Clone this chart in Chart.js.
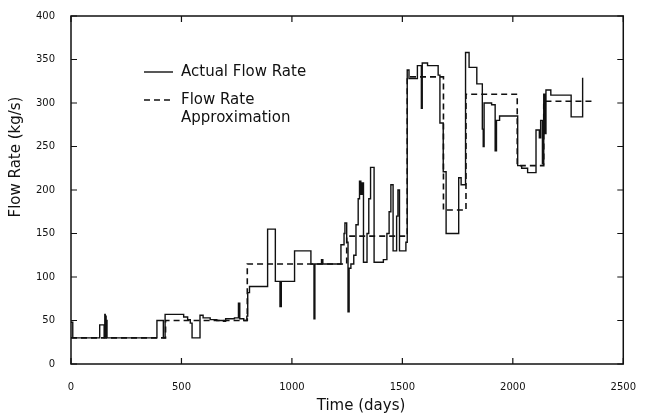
<!DOCTYPE html>
<html>
<head>
<meta charset="utf-8">
<script src="https://cdn.jsdelivr.net/npm/chart.js@4.4.0/dist/chart.umd.min.js"></script>
<style>
    html, body { margin: 0; padding: 0; background: #fff; }
    #wrap { width: 645px; height: 416px; }
</style>
</head>
<body>
<div id="wrap"><canvas id="flowChart" width="645" height="416"></canvas></div>
<script>
// each value holds from its day until the next day (step plot)
const actualDays = [
    0, 8, 130, 150, 153, 155, 157, 159, 161, 163,
    389, 418, 426, 510, 528, 540, 548, 584, 598, 630,
    660, 690, 700, 740, 758, 764, 782, 796, 800, 808,
    890, 925, 946, 952, 1012, 1086, 1100, 1104, 1134, 1140,
    1222, 1236, 1240, 1248, 1254, 1259, 1267, 1280, 1290, 1300,
    1306, 1312, 1318, 1324, 1340, 1348, 1356, 1372, 1414, 1430,
    1440, 1448, 1458, 1474, 1480, 1487, 1516, 1522, 1530, 1568,
    1586, 1590, 1614, 1662, 1670, 1685, 1698, 1755, 1766, 1786,
    1802, 1837, 1862, 1866, 1870, 1904, 1920, 1926, 1940, 2022,
    2040, 2067, 2105, 2120, 2126, 2134, 2140, 2146, 2150, 2172,
    2264, 2316
];
const actualFlow = [
    48, 30, 45, 30, 57, 33, 55, 31, 50, 30,
    50, 30, 57, 54, 51, 47, 30, 56, 53, 51,
    50, 49, 52, 53, 70, 52, 50, 55, 82, 89,
    155, 95, 66, 95, 130, 115, 52, 115, 120, 115,
    137, 150, 162, 140, 60, 110, 115, 125, 160, 190,
    210, 195, 208, 117, 150, 190, 226, 117, 120, 150,
    175, 206, 130, 170, 200, 130, 140, 338, 328, 343,
    294, 346, 343, 332, 277, 221, 150, 214, 206, 358,
    341, 322, 270, 250, 300, 298, 245, 280, 285, 228,
    225, 220, 269, 260, 280, 230, 310, 265, 315, 309,
    284, 329
];
const approxDays = [0, 428, 798, 1248, 1522, 1686, 1788, 2020, 2140, 2360];
const approxFlow = [30, 50, 115, 147, 330, 177, 310, 228, 302, 302];

const xTicks = [0, 500, 1000, 1500, 2000, 2500];
const yTicks = [0, 50, 100, 150, 200, 250, 300, 350, 400];

const ink = "#111";
const fontName = "'DejaVu Sans', sans-serif";

function toPoints(xs, ys) {
    return xs.map((x, i) => ({ x: x, y: ys[i] }));
}

const framePlugin = {
    id: "frame",
    afterDraw(chart) {
        const { ctx, chartArea: a, scales } = chart;
        ctx.save();
        ctx.strokeStyle = ink;
        ctx.lineWidth = 1.5;
        ctx.strokeRect(a.left, a.top, a.right - a.left, a.bottom - a.top);

        // inward tick marks on all four sides
        ctx.lineWidth = 1.2;
        ctx.beginPath();
        scales.x.ticks.forEach(t => {
            const px = scales.x.getPixelForValue(t.value);
            ctx.moveTo(px, a.bottom); ctx.lineTo(px, a.bottom - 6);
            ctx.moveTo(px, a.top); ctx.lineTo(px, a.top + 6);
        });
        scales.y.ticks.forEach(t => {
            const py = scales.y.getPixelForValue(t.value);
            ctx.moveTo(a.left, py); ctx.lineTo(a.left + 6, py);
            ctx.moveTo(a.right, py); ctx.lineTo(a.right - 6, py);
        });
        ctx.stroke();

        // axis titles
        ctx.fillStyle = ink;
        ctx.font = "15px " + fontName;
        ctx.textAlign = "center";
        ctx.textBaseline = "middle";
        ctx.fillText("Time (days)", 361, 406);
        ctx.save();
        ctx.translate(16, 157);
        ctx.rotate(-Math.PI / 2);
        ctx.fillText("Flow Rate (kg/s)", 0, 0);
        ctx.restore();

        // legend inside the plot
        const ds = chart.data.datasets;
        const rows = [
            { y: 72, lines: ["Actual Flow Rate"] },
            { y: 100, lines: ["Flow Rate", "Approximation"] }
        ];
        ctx.textAlign = "left";
        rows.forEach((row, i) => {
            ctx.beginPath();
            ctx.lineWidth = ds[i].borderWidth;
            ctx.setLineDash(ds[i].borderDash || []);
            ctx.moveTo(144, row.y);
            ctx.lineTo(173, row.y);
            ctx.stroke();
            ctx.setLineDash([]);
            row.lines.forEach((txt, j) => ctx.fillText(txt, 181, row.y + j * 18));
        });
        ctx.restore();
    }
};

const ctx = document.getElementById("flowChart").getContext("2d");

new Chart(ctx, {
    type: "line",
    data: {
        datasets: [{
            label: "Actual Flow Rate",
            data: toPoints(actualDays, actualFlow),
            borderColor: ink,
            borderWidth: 1.4,
            stepped: "before",
            pointRadius: 0,
            fill: false
        }, {
            label: "Flow Rate Approximation",
            data: toPoints(approxDays, approxFlow),
            borderColor: ink,
            borderWidth: 1.6,
            borderDash: [6, 4],
            stepped: "before",
            pointRadius: 0,
            fill: false
        }]
    },
    options: {
        responsive: false,
        animation: false,
        layout: {
            autoPadding: false,
            padding: { top: 16, right: 15, left: 0, bottom: 0 }
        },
        plugins: {
            legend: { display: false },
            tooltip: { enabled: false }
        },
        scales: {
            x: {
                type: "linear",
                min: 0,
                max: 2500,
                afterBuildTicks: s => { s.ticks = xTicks.map(v => ({ value: v })); },
                afterFit: s => { s.height = 52; },
                grid: { display: false },
                border: { display: false },
                ticks: {
                    color: ink,
                    padding: 9,
                    maxRotation: 0,
                    callback: v => String(v),
                    font: { family: fontName, size: 10 }
                }
            },
            y: {
                min: 0,
                max: 400,
                afterBuildTicks: s => { s.ticks = yTicks.map(v => ({ value: v })); },
                afterFit: s => { s.width = 71; },
                grid: { display: false },
                border: { display: false },
                ticks: {
                    color: ink,
                    padding: 8,
                    callback: v => String(v),
                    font: { family: fontName, size: 10 }
                }
            }
        }
    },
    plugins: [framePlugin]
});
</script>
</body>
</html>
